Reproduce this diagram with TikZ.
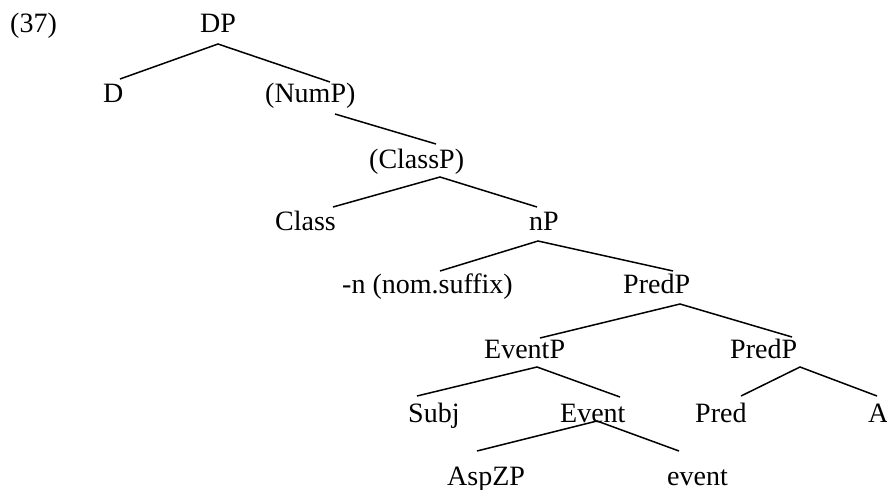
\documentclass[tikz,border=0pt]{standalone}
\usepackage{fontspec}
\setmainfont{Liberation Serif}
\begin{document}
\begin{tikzpicture}[x=1pt,y=-1pt,
  lbl/.style={anchor=base west,inner sep=0pt,font=\fontsize{28}{30}\selectfont},
  edge/.style={line width=1.5pt}]
\useasboundingbox (0,0) rectangle (887,490);
% labels
\node[lbl] (ex)    at (10,32)  {(37)};
\node[lbl] (DP)    at (200,32) {DP};
\node[lbl] (D)     at (103,102) {D};
\node[lbl] (NumP)  at (265,102) {(NumP)};
\node[lbl] (ClassP) at (369,168) {(ClassP)};
\node[lbl] (Class) at (275,230) {Class};
\node[lbl] (nP)    at (529,230) {nP};
\node[lbl] (nsuf)  at (342,293) {-n (nom.suffix)};
\node[lbl] (PredPa) at (623,293) {PredP};
\node[lbl] (EventP) at (484,358) {EventP};
\node[lbl] (PredPb) at (730,358) {PredP};
\node[lbl] (Subj)  at (408,422) {Subj};
\node[lbl] (Event) at (560,422) {Event};
\node[lbl] (Pred)  at (695,422) {Pred};
\node[lbl] (A)     at (868,422) {A};
\node[lbl] (AspZP) at (447,485) {AspZP};
\node[lbl] (event) at (667,485) {event};
% attachment points
\coordinate (DPb) at (218,44);
\coordinate (Dt) at (120,79);
\coordinate (NumPt) at (330,82);
\coordinate (NumPb) at (335,114);
\coordinate (ClassPt) at (436,144);
\coordinate (ClassPb) at (440,177);
\coordinate (Classt) at (333,207);
\coordinate (nPt) at (537,207);
\coordinate (nPb) at (538,241);
\coordinate (nsuft) at (440,271);
\coordinate (PredPat) at (673,271);
\coordinate (PredPab) at (680,304);
\coordinate (EventPt) at (540,338);
\coordinate (PredPbt) at (792,337);
\coordinate (EventPb) at (537,367);
\coordinate (Subjt) at (417,396);
\coordinate (Eventt) at (620,397);
\coordinate (PredPbb) at (800,367);
\coordinate (Predt) at (741,396);
\coordinate (At) at (877,396);
\coordinate (Eventb) at (597,421);
\coordinate (AspZPt) at (477,451);
\coordinate (eventt) at (679,451);
% branches
\draw[edge] (Dt) -- (DPb) -- (NumPt);
\draw[edge] (NumPb) -- (ClassPt);
\draw[edge] (Classt) -- (ClassPb) -- (nPt);
\draw[edge] (nsuft) -- (nPb) -- (PredPat);
\draw[edge] (EventPt) -- (PredPab) -- (PredPbt);
\draw[edge] (Subjt) -- (EventPb) -- (Eventt);
\draw[edge] (Predt) -- (PredPbb) -- (At);
\draw[edge] (AspZPt) -- (Eventb) -- (eventt);
\end{tikzpicture}
\end{document}
